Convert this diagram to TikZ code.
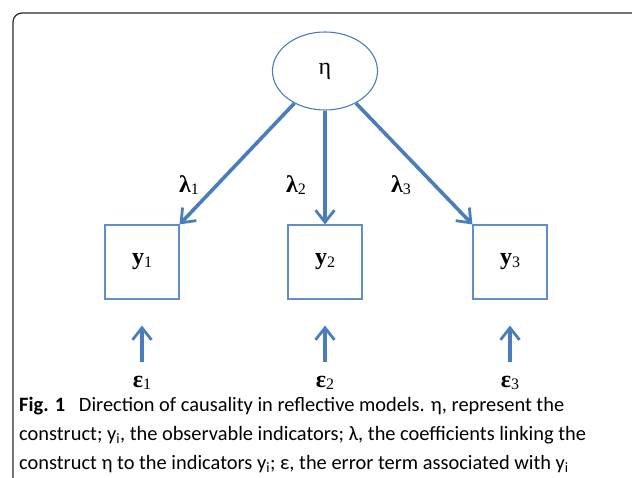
\documentclass[tikz,border=0pt]{standalone}
\usepackage{fontspec}
\setmainfont{Liberation Serif}
\newfontfamily\capfont{Carlito}
\usetikzlibrary{positioning,shapes.geometric,arrows.meta}
\definecolor{pathblue}{RGB}{74,126,187}
\definecolor{boxblue}{RGB}{95,142,200}
\definecolor{framegray}{RGB}{40,40,40}
\newcommand{\idx}[1]{\raisebox{-0.2ex}{\fontsize{16}{16}\selectfont\mdseries #1}}

\begin{document}
\begin{tikzpicture}[
					x=1pt, y=-1pt,
					latent/.style={draw=pathblue, ellipse, line width=1.1pt, minimum width=105pt,
						minimum height=78pt, font=\fontsize{24}{24}\selectfont},
					indic/.style={draw=boxblue, line width=1.2pt, minimum size=74pt,
						font=\fontsize{24}{24}\selectfont\bfseries},
					coef/.style={font=\fontsize{24}{24}\selectfont\bfseries},
					arr/.style={-{Straight Barb[length=12pt,width=19pt,line width=2.8pt]}, line width=3.6pt, pathblue}
					]
					\useasboundingbox (0,0) rectangle (632,478);
					\draw[framegray, line width=1.2pt, rounded corners=9pt] (13,480) -- (13,13) -- (640,13);
					
					\node[latent] (eta) at (325,71)  {η};
					\node[indic]  (y1)  at (142,262) {y\idx{1}};
					\node[indic]  (y2)  at (325,262) {y\idx{2}};
					\node[indic]  (y3)  at (510,262) {y\idx{3}};
					\node[coef]   (l1)  at (189,185) {λ\idx{1}};
					\node[coef]   (l2)  at (296,185) {λ\idx{2}};
					\node[coef]   (l3)  at (401,185) {λ\idx{3}};
					\node[coef]   (e1)  at (142,383) {ε\idx{1}};
					\node[coef]   (e2)  at (325,383) {ε\idx{2}};
					\node[coef]   (e3)  at (510,383) {ε\idx{3}};
					
					\draw[arr] (eta) -- (y1.north east);
					\draw[arr] (eta) -- (y2);
					\draw[arr] (eta) -- (y3.north west);
					\draw[arr, shorten <=11pt, shorten >=26pt] (e1) -- (y1);
					\draw[arr, shorten <=11pt, shorten >=26pt] (e2) -- (y2);
					\draw[arr, shorten <=11pt, shorten >=26pt] (e3) -- (y3);
					
					\node[anchor=north west, align=left, inner sep=0pt,
						font=\capfont\fontsize{20.4}{29}\selectfont] (cap) at (19,397)
						{\textbf{Fig. 1}\hspace{0.45em} Direction of causality in reflective models. η, represent the\\
						construct; y\textsubscript{i}, the observable indicators; λ, the coefficients linking the\\
						construct η to the indicators y\textsubscript{i}; ε, the error term associated with y\textsubscript{i}};
				\end{tikzpicture}
\end{document}
